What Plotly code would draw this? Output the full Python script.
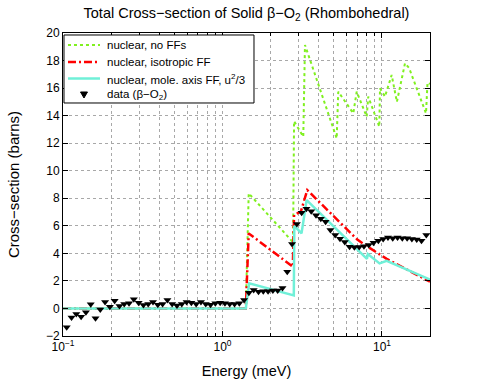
import plotly.graph_objects as go

# measured data (beta-O2), energy in meV, cross-section in barns
data_energy = [0.1055, 0.1131, 0.1212, 0.1299, 0.1392, 0.1492, 0.1599, 0.1713, 0.1836, 0.1967,
               0.2108, 0.2259, 0.2421, 0.2595, 0.2780, 0.2980, 0.3193, 0.3422, 0.3667, 0.3930,
               0.4212, 0.4514, 0.4837, 0.5184, 0.5556, 0.5954, 0.6380, 0.6838, 0.7328, 0.7853,
               0.8416, 0.9020, 0.9665, 1.036, 1.110, 1.190, 1.275, 1.366, 1.464, 1.569,
               1.682, 1.802, 1.931, 2.070, 2.218, 2.377, 2.547, 2.730, 2.926, 3.135,
               3.360, 3.601, 3.858, 4.135, 4.431, 4.749, 5.089, 5.454, 5.845, 6.263,
               6.713, 7.194, 7.709, 8.262, 8.853, 9.489, 10.17, 10.90, 11.68, 12.52,
               13.41, 14.38, 15.40, 16.51, 17.69, 18.96]
data_xs = [-1.37, -0.65, -0.41, -0.60, -0.28, 0.30, -0.72, -0.07, 0.47, 0.12,
           0.56, 0.17, 0.32, 0.37, 0.66, 0.41, 0.25, 0.32, 0.47, 0.27,
           0.32, 0.61, 0.32, 0.22, 0.32, 0.47, 0.41, 0.32, 0.47, 0.32,
           0.27, 0.37, 0.41, 0.37, 0.32, 0.32, 0.37, 0.61, 1.14, 1.34,
           1.22, 1.25, 1.25, 1.30, 1.30, 1.48, 2.67, 4.68, 6.13, 6.95,
           7.24, 7.05, 6.76, 6.52, 6.30, 5.69, 5.33, 5.06, 4.82, 4.48,
           4.44, 4.46, 4.51, 4.60, 4.77, 4.92, 5.04, 5.16, 5.09, 5.16,
           5.09, 5.09, 5.04, 5.01, 4.92, 5.33]

# nuclear, no form factors
noff_energy = [0.1, 1.40, 1.46, 2.77, 2.81, 3.21, 3.29, 5.20, 5.32, 6.61, 6.94, 8.02, 8.20,
               9.62, 9.72, 10.44, 11.5, 12.4, 13.94, 14.8, 18.88, 19.3, 20.0]
noff_xs = [0.0, 0.0, 8.36, 4.80, 13.6, 12.47, 19.13, 12.35, 15.74, 14.17, 15.74, 13.92, 15.38,
           13.2, 15.98, 15.38, 16.95, 15.0, 17.8, 17.45, 14.17, 16.4, 16.3]

# nuclear, isotropic form factor
iso_energy = [0.1, 1.40, 1.46, 2.76, 2.81, 3.10, 3.40, 7.0, 8.10, 10.7, 20.0]
iso_xs = [0.0, 0.0, 5.45, 3.03, 6.80, 7.03, 8.60, 5.0, 4.50, 3.60, 1.94]

# nuclear, molecular axis form factor
mol_energy = [0.1, 1.40, 1.47, 2.80, 2.82, 3.13, 3.37, 8.05, 8.15, 9.65, 10.7, 20.0]
mol_xs = [0.0, 0.0, 1.82, 0.95, 6.0, 5.45, 7.87, 3.60, 3.95, 3.27, 3.45, 2.10]

xtick_vals = [0.1, 1, 10]
xtick_text = ['10<sup>\u22121</sup>', '10<sup>0</sup>', '10<sup>1</sup>']
xminor_vals = [0.2, 0.3, 0.4, 0.5, 0.6, 0.7, 0.8, 0.9, 2, 3, 4, 5, 6, 7, 8, 9]
ytick_vals = list(range(-2, 21, 2))

legend_names = ['nuclear, no FFs', 'nuclear, isotropic FF',
                'nuclear, mole. axis FF, u<sup>2</sup>/3', 'data (\u03b2\u2212O<sub>2</sub>)']

GREEN, RED, CYAN = '#80F020', '#FF0000', '#70F0D8'
RED_DASH = '8px,3px,2px,3px'
font = 'Liberation Sans, Arial, sans-serif'

fig = go.Figure()
fig.add_trace(go.Scatter(x=noff_energy, y=noff_xs, mode='lines', name=legend_names[0],
                         line=dict(color=GREEN, width=2, dash='dot')))
fig.add_trace(go.Scatter(x=iso_energy, y=iso_xs, mode='lines', name=legend_names[1],
                         line=dict(color=RED, width=2.5, dash=RED_DASH)))
fig.add_trace(go.Scatter(x=mol_energy, y=mol_xs, mode='lines', name=legend_names[2],
                         line=dict(color=CYAN, width=2.5)))
fig.add_trace(go.Scatter(x=data_energy, y=data_xs, mode='markers', name=legend_names[3],
                         marker=dict(symbol='triangle-down', color='black', size=7)))

# hand-drawn legend box (matlab style, tighter rows than plotly's legend)
fig.add_shape(type='rect', xref='paper', yref='paper', x0=0.0027, x1=0.5204, y0=0.769, y1=0.9934,
              line=dict(color='black', width=1), fillcolor='white', layer='above')
rows = [0.9604, 0.9043, 0.8498, 0.7954]
styles = [dict(color=GREEN, width=2, dash='dot'), dict(color=RED, width=2.5, dash=RED_DASH),
          dict(color=CYAN, width=2.5), None]
for ry, st, name in zip(rows, styles, legend_names):
    if st is not None:
        fig.add_shape(type='line', xref='paper', yref='paper', x0=0.0136, x1=0.1008, y0=ry, y1=ry,
                      line=st, layer='above')
    else:
        cx, hw, hh = 0.0572, 0.0095, 0.0099
        fig.add_shape(type='path', xref='paper', yref='paper', layer='above',
                      path=f'M {cx - hw} {ry + hh} L {cx + hw} {ry + hh} L {cx} {ry - hh} Z',
                      fillcolor='black', line=dict(color='black', width=1))
    fig.add_annotation(xref='paper', yref='paper', x=0.1144, y=ry, text=name, xanchor='left',
                       yanchor='middle', showarrow=False, font=dict(size=11.5, color='black'))

fig.update_layout(
    width=478, height=391,
    margin=dict(l=63, r=48, t=33, b=55),
    paper_bgcolor='white', plot_bgcolor='white',
    font=dict(family=font, size=12, color='black'),
    title=dict(text='Total Cross\u2212section of Solid \u03b2\u2212O<sub>2</sub> (Rhombohedral)',
               x=0.5, xref='paper', xanchor='center', y=0.968, yanchor='middle', yref='container',
               font=dict(size=14.5)),
    showlegend=False,
)
fig.update_xaxes(type='log', range=[-1, 1.30103], tickvals=xtick_vals, ticktext=xtick_text,
                 title=dict(text='Energy (meV)', font=dict(size=14.5), standoff=12),
                 showline=True, linecolor='black', linewidth=1, mirror='ticks',
                 ticks='inside', ticklen=5, tickcolor='black',
                 showgrid=True, gridcolor='#A8A8A8', griddash='dot', gridwidth=1,
                 minor=dict(tickvals=xminor_vals, ticks='inside', ticklen=3, tickcolor='black',
                            showgrid=True, gridcolor='#A8A8A8', griddash='dot', gridwidth=1),
                 zeroline=False)
fig.update_yaxes(range=[-2, 20], tickvals=ytick_vals,
                 title=dict(text='Cross\u2212section (barns)', font=dict(size=15), standoff=22),
                 showline=True, linecolor='black', linewidth=1, mirror='ticks',
                 ticks='inside', ticklen=5, tickcolor='black',
                 showgrid=True, gridcolor='#A8A8A8', griddash='dot', gridwidth=1,
                 zeroline=False)

# drop the browser's default 8px body margin so the figure sits at the window origin
fig.write_html("out.html", config={'displayModeBar': False},
               post_script="document.body.style.margin='0';")
